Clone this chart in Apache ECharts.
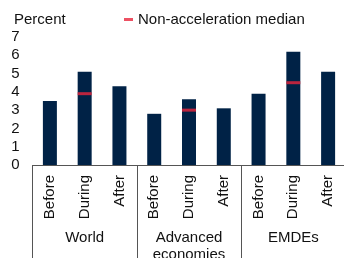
<!DOCTYPE html>
<html>
<head>
<meta charset="utf-8">
<script src="https://cdn.jsdelivr.net/npm/echarts@6/dist/echarts.min.js"></script>
<style>
  html, body { margin: 0; padding: 0; background: #fff; }
  #chart { width: 344px; height: 258px; }
</style>
</head>
<body>
<div id="chart"></div>
<script>
const phases = ['Before', 'During', 'After', 'Before', 'During', 'After', 'Before', 'During', 'After']
const groups = ['World', 'Advanced\neconomies', 'EMDEs']
const growth = [3.5, 5.1, 4.3, 2.8, 3.6, 3.1, 3.9, 6.2, 5.1]
const median = ['-', 3.9, '-', '-', 3.0, '-', '-', 4.5, '-']
const yTicks = [0, 1, 2, 3, 4, 5, 6, 7]

const font = 'Liberation Sans, Arial, sans-serif'
const chart = echarts.init(document.getElementById('chart'))

chart.setOption({
  animation: false,
  title: {
    text: 'Percent',
    left: 14,
    top: 12,
    padding: 0,
    textStyle: { fontFamily: font, fontSize: 15, fontWeight: 'normal', color: '#111' },
  },
  legend: {
    data: ['Non-acceleration median'],
    left: 124,
    top: 12,
    padding: 0,
    itemWidth: 9,
    itemHeight: 3,
    icon: 'rect',
    textStyle: { fontFamily: font, fontSize: 15, color: '#111' },
  },
  grid: { left: 32.5, top: 37, width: 313, bottom: 93, outerBoundsMode: 'none' },
  xAxis: [
    {
      type: 'category',
      data: phases,
      axisLine: { show: true, lineStyle: { color: '#555', width: 1 } },
      axisTick: { show: false },
      axisLabel: { rotate: 90, margin: 10, fontFamily: font, fontSize: 15, color: '#111', interval: 0 },
    },
    {
      type: 'category',
      data: groups,
      position: 'bottom',
      axisLine: { show: false },
      axisTick: { show: true, length: 95, lineStyle: { color: '#555', width: 1 } },
      axisLabel: { margin: 64, fontFamily: font, fontSize: 15, color: '#111', lineHeight: 17, interval: 0 },
    },
  ],
  yAxis: {
    type: 'value',
    min: 0,
    max: yTicks[yTicks.length - 1],
    interval: 1,
    axisLine: { show: false },
    axisTick: { show: false },
    splitLine: { show: false },
    axisLabel: { margin: 13, fontFamily: font, fontSize: 15, color: '#111' },
  },
  series: [
    {
      name: 'Growth',
      type: 'bar',
      data: growth,
      barWidth: 14,
      itemStyle: { color: '#002246' },
    },
    {
      name: 'Non-acceleration median',
      type: 'scatter',
      data: median,
      symbol: 'rect',
      symbolSize: [14, 3],
      itemStyle: { color: '#E8253C' },
      z: 5,
    },
  ],
})
</script>
</body>
</html>
